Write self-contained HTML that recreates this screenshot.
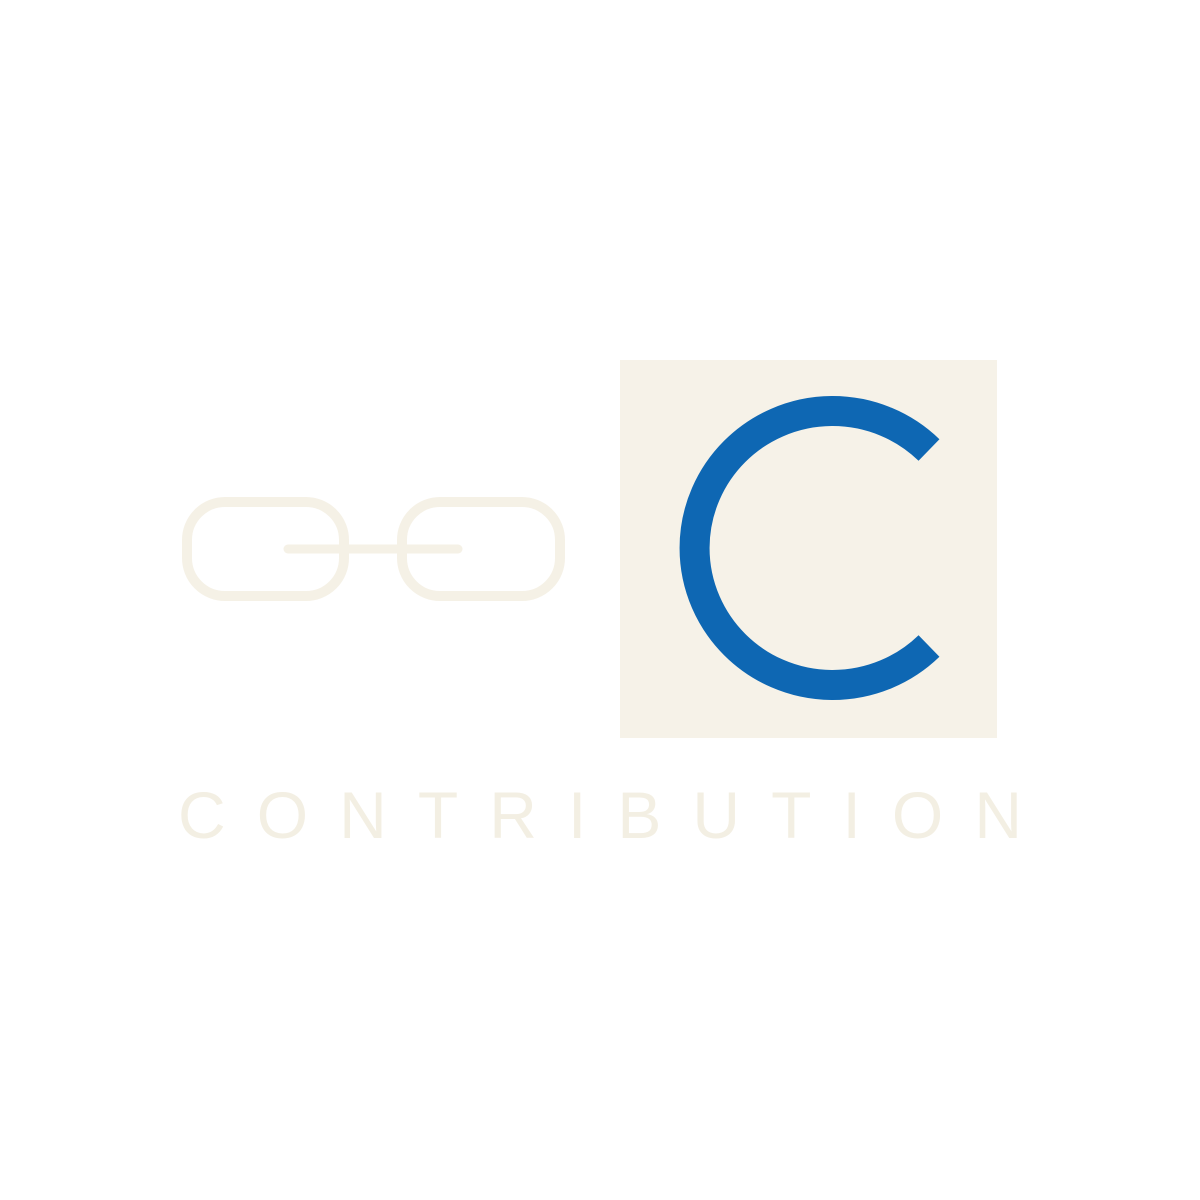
<!DOCTYPE html>
<html>
<head>
<meta charset="utf-8">
<style>
  html,body{margin:0;padding:0;background:#ffffff;}
  svg{display:block;}
</style>
</head>
<body>
<svg width="1200" height="1200" viewBox="0 0 1200 1200" xmlns="http://www.w3.org/2000/svg">
  <rect x="0" y="0" width="1200" height="1200" fill="#ffffff"/>
  <g fill="none" stroke="#f5f1e6">
    <rect x="187" y="502" width="157" height="94" rx="38" ry="38" stroke-width="10"/>
    <rect x="402" y="502" width="158" height="94" rx="38" ry="38" stroke-width="10"/>
    <line x1="288" y1="549" x2="458" y2="549" stroke-width="9" stroke-linecap="round"/>
  </g>
  <rect x="620" y="360" width="377" height="378" fill="#f6f2e8"/>
  <path d="M 929 450 A 138 137 0 1 0 929 646" fill="none" stroke="#0e67b3" stroke-width="30" stroke-linecap="butt"/>
  <text x="178" y="838" font-family="'Liberation Sans', sans-serif" font-size="66" font-weight="normal" fill="#f3efe3" textLength="844" lengthAdjust="spacing">CONTRIBUTION</text>
</svg>
</body>
</html>
